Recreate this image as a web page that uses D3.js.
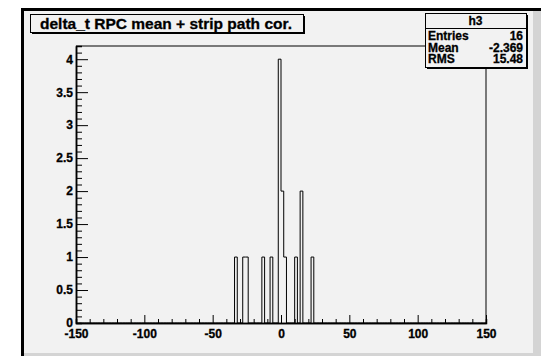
<!DOCTYPE html>
<html>
<head>
<meta charset="utf-8">
<script src="https://cdn.jsdelivr.net/npm/d3@7"></script>
<style>
  body { margin: 0; background: #fff; }
  text { font-family: "Liberation Sans", Arial, sans-serif; font-weight: bold; fill: #000;
         stroke: #000; stroke-width: 0.3px; }
</style>
</head>
<body>
<script>
// histogram h3: non-empty bins (lower edge) and their contents, bin width 2
const binLow = [-34, -28, -26, -14, -8, -2, 0, 2, 10, 14, 22];
const binCount = [1, 1, 1, 1, 1, 4, 2, 1, 1, 2, 1];
const binWidth = 2;
const xRange = [-150, 150];
const yRange = [0, 4.2];
const xMajor = [-150, -100, -50, 0, 50, 100, 150];
const yMajor = [0, 0.5, 1, 1.5, 2, 2.5, 3, 3.5, 4];
const titleText = "delta_t RPC mean + strip path cor.";
const statName = "h3";
const statLabels = ["Entries", "Mean", "RMS"];
const statValues = ["16", "-2.369", "15.48"];

const W = 541, H = 356;
const frame = { left: 76, right: 486, top: 46, bottom: 323 };
const bg = "#f2f2f2";

const svg = d3.select("body").append("svg")
    .attr("width", W)
    .attr("height", H);

// canvas with bevelled border (dark top-left, light bottom-right)
svg.append("rect").attr("x", 21).attr("y", 8).attr("width", W - 21).attr("height", H - 8).attr("fill", "#000");
svg.append("rect").attr("x", 24).attr("y", 11).attr("width", W - 24).attr("height", H - 11).attr("fill", "#d4d4d4");
svg.append("rect").attr("x", 24).attr("y", 11).attr("width", 509).attr("height", 342).attr("fill", bg);

const x = d3.scaleLinear().domain(xRange).range([frame.left, frame.right]);
const y = d3.scaleLinear().domain(yRange).range([frame.bottom, frame.top]);

// frame top / right
svg.append("path")
    .attr("d", `M${frame.left},${frame.top}H${frame.right}V${frame.bottom}`)
    .attr("fill", "none")
    .attr("stroke", "#000")
    .attr("stroke-width", 1);

// full bin array and step outline
const nBins = (xRange[1] - xRange[0]) / binWidth;
const counts = new Array(nBins).fill(0);
binLow.forEach((b, i) => { counts[(b - xRange[0]) / binWidth] = binCount[i]; });
const pts = [[xRange[0], 0]];
counts.forEach((c, i) => {
    const lo = xRange[0] + i * binWidth;
    pts.push([lo, c], [lo + binWidth, c]);
});
pts.push([xRange[1], 0]);

const line = d3.line().x(d => x(d[0])).y(d => y(d[1]));
svg.append("path")
    .datum(pts)
    .attr("d", line)
    .attr("fill", "none")
    .attr("stroke", "#000")
    .attr("stroke-width", 1);

// x axis
const xMinor = d3.range(xRange[0], xRange[1] + 1, 10).filter(v => v % 50 !== 0);
const gx = svg.append("g").attr("transform", `translate(0,${frame.bottom})`);
gx.append("g").call(d3.axisBottom(x).tickValues(xMinor).tickSize(-4).tickFormat(""));
gx.append("g").call(d3.axisBottom(x).tickValues(xMajor).tickSize(-8).tickPadding(6.5).tickSizeOuter(0).tickFormat(d => String(d)))
    .call(g => g.selectAll("text").style("font-size", "12px").attr("fill", "#000"));
gx.selectAll(".domain").attr("stroke", "#000").attr("stroke-width", 1.5);
gx.selectAll(".tick line").attr("stroke", "#000");

// y axis
const yMinor = d3.range(0, 42).map(v => v / 10).filter(v => Math.round(v * 10) % 5 !== 0);
const gy = svg.append("g").attr("transform", `translate(${frame.left},0)`);
gy.append("g").call(d3.axisLeft(y).tickValues(yMinor).tickSize(-6).tickFormat(""));
gy.append("g").call(d3.axisLeft(y).tickValues(yMajor).tickSize(-12).tickPadding(3).tickSizeOuter(0).tickFormat(d => String(d)))
    .call(g => g.selectAll("text").style("font-size", "12px").attr("fill", "#000"));
gy.selectAll(".domain").attr("stroke", "#000").attr("stroke-width", 1.5);
gy.selectAll(".tick line").attr("stroke", "#000");

// pave with shadow
function pave(x0, y0, w, h) {
    svg.append("rect").attr("x", x0 + 2).attr("y", y0 + 2).attr("width", w).attr("height", h).attr("fill", "#000");
    svg.append("rect").attr("x", x0 + 0.5).attr("y", y0 + 0.5).attr("width", w).attr("height", h)
        .attr("fill", bg).attr("stroke", "#000").attr("stroke-width", 1);
}

// title
pave(30, 14, 273, 18);
svg.append("text").attr("x", 166).attr("y", 28.5).attr("text-anchor", "middle")
    .style("font-size", "15.5px").text(titleText);

// stats box
const sx = 425, sy = 13, sw = 101, sh = 54;
pave(sx, sy, sw, sh);
svg.append("line").attr("x1", sx).attr("x2", sx + sw).attr("y1", 28.5).attr("y2", 28.5).attr("stroke", "#000");
svg.append("text").attr("x", sx + sw / 2).attr("y", 25).attr("text-anchor", "middle")
    .style("font-size", "12px").text(statName);
statLabels.forEach((lab, i) => {
    const yy = 40 + i * 11.5;
    svg.append("text").attr("x", sx + 3).attr("y", yy).style("font-size", "12px").text(lab);
    svg.append("text").attr("x", sx + sw - 3).attr("y", yy).attr("text-anchor", "end")
        .style("font-size", "12px").text(statValues[i]);
});
</script>
</body>
</html>
